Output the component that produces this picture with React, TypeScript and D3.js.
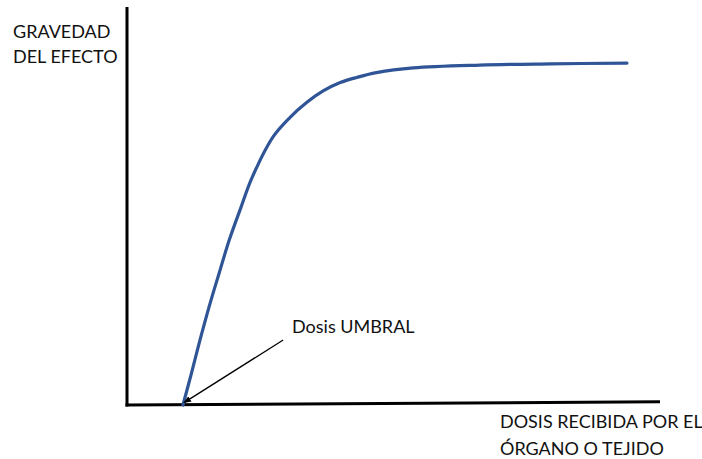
import React from "react";
import * as d3 from "d3";

const doseValues = [10.5, 12.1, 13.7, 15.4, 17.3, 19.2, 21.4, 23.4, 27.4, 30.6, 33.7, 36.8, 40.0, 43.1, 46.8, 53.7, 66.2, 79.4, 93.8];
const severityValues = [0, 8.0, 16.3, 24.6, 33.1, 41.4, 49.6, 56.8, 67.2, 72.1, 75.8, 78.7, 80.8, 82.1, 83.3, 84.5, 85.2, 85.5, 85.7];
const yAxisTitle = ["GRAVEDAD", "DEL EFECTO"];
const xAxisTitle = ["DOSIS RECIBIDA POR EL", "ÓRGANO O TEJIDO"];
const annotationLabel = "Dosis UMBRAL";
const annotationFrom = [29.3, 16.3];
const annotationTo = [10.7, 0.6];

const W = 702;
const H = 459;
const FONT = "Lato, 'Open Sans', sans-serif";

export default function App() {
  const x = d3.scaleLinear().domain([0, 100]).range([127, 660]);
  const y = d3.scaleLinear().domain([0, 100]).range([405, 6]);
  const data = doseValues.map((d, i) => [d, severityValues[i]] as [number, number]);
  const line = d3
    .line<[number, number]>()
    .x((d) => x(d[0]))
    .y((d) => y(d[1]))
    .curve(d3.curveCatmullRom.alpha(0.5));

  const ax1 = x(annotationFrom[0]);
  const ay1 = y(annotationFrom[1]);
  const ax2 = x(annotationTo[0]);
  const ay2 = y(annotationTo[1]);

  return (
    <svg
      width={W}
      height={H}
      style={{ position: "fixed", left: 0, top: 0, background: "#fff" }}
    >
      <defs>
        <marker id="arrow" viewBox="0 0 10 10" refX="9" refY="5" markerWidth="6" markerHeight="6" orient="auto">
          <path d="M0,1 L10,5 L0,9 z" fill="#000" />
        </marker>
      </defs>
      <line x1={x(0)} y1={y(0) + 1.5} x2={x(0)} y2={y(100) + 1} stroke="#000" strokeWidth={3} />
      <line x1={x(0) - 1.5} y1={y(0)} x2={x(100)} y2={y(0.8)} stroke="#000" strokeWidth={3} />
      <path d={line(data) ?? ""} fill="none" stroke="#2F5597" strokeWidth={3.2} strokeLinecap="round" strokeLinejoin="round" />
      <line x1={ax1} y1={ay1} x2={ax2} y2={ay2} stroke="#000" strokeWidth={1.3} markerEnd="url(#arrow)" />
      <text x={292} y={333} fontFamily={FONT} fontSize={18} fill="#111">
        {annotationLabel}
      </text>
      {yAxisTitle.map((t, i) => (
        <text key={t} x={13} y={38 + i * 25} fontFamily={FONT} fontSize={18} fill="#111">
          {t}
        </text>
      ))}
      {xAxisTitle.map((t, i) => (
        <text key={t} x={500} y={428 + i * 27} fontFamily={FONT} fontSize={18} fill="#111">
          {t}
        </text>
      ))}
    </svg>
  );
}
